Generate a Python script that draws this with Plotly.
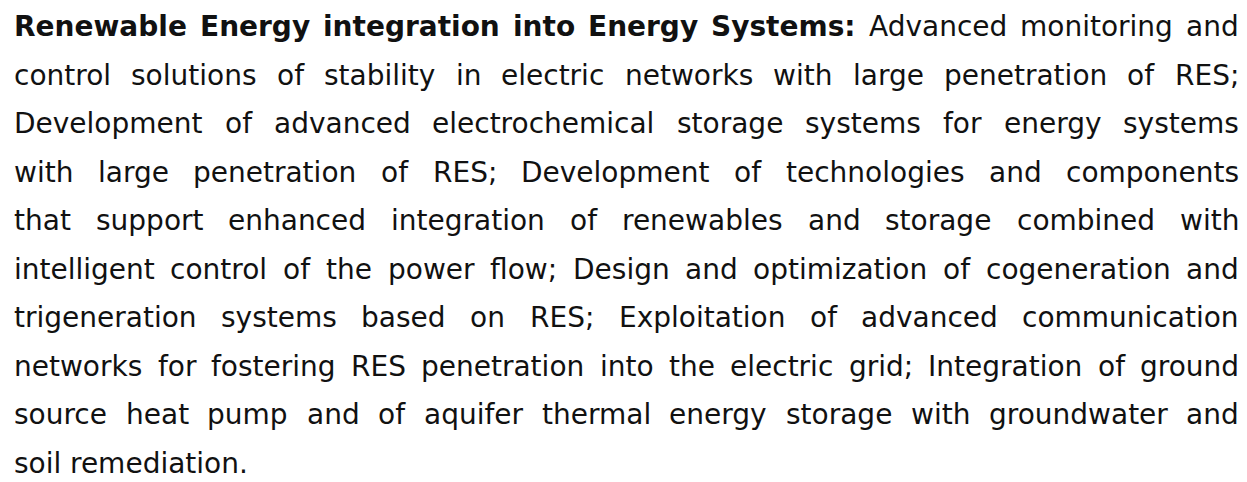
import glob
import plotly.graph_objects as go

# ---- content ----
bold_lead = "Renewable Energy integration into Energy Systems:"
lines = [
    "Renewable Energy integration into Energy Systems: Advanced monitoring and",
    "control solutions of stability in electric networks with large penetration of RES;",
    "Development of advanced electrochemical storage systems for energy systems",
    "with large penetration of RES; Development of technologies and components",
    "that support enhanced integration of renewables and storage combined with",
    "intelligent control of the power flow; Design and optimization of cogeneration and",
    "trigeneration systems based on RES; Exploitation of advanced communication",
    "networks for fostering RES penetration into the electric grid; Integration of ground",
    "source heat pump and of aquifer thermal energy storage with groundwater and",
    "soil remediation.",
]
justified = [True] * 9 + [False]

# ---- layout constants (page pixel coordinates) ----
W, H = 1247, 482
PAGE_OFFSET = 8          # default body margin of the html page
LEFT, RIGHT = 13, 1238
FIRST_BASELINE, LINE_STEP = 36.5, 48.5
FONT = "DejaVu Sans"
SIZE = 28
MIN_GAP = 5.0
COLOR = "#111111"

# ---- word width measurement (per px of font size) ----
REG = dict(a=1255, b=1300, c=1126, d=1300, e=1260, f=721, g=1300, h=1298, i=569, j=569,
           k=1186, l=569, m=1995, n=1298, o=1253, p=1300, q=1300, r=842, s=1067, t=803,
           u=1298, v=1212, w=1675, x=1212, y=1212, z=1075, A=1401, D=1577, E=1294,
           I=604, R=1423, S=1300, T=1251)
REG.update({";": 690, ":": 690, ".": 651, " ": 651})
BLD = dict(a=1382, b=1466, c=1214, d=1466, e=1389, f=891, g=1466, h=1458, i=702, j=702,
           k=1362, l=702, m=2134, n=1458, o=1407, p=1466, q=1466, r=1010, s=1219, t=979,
           u=1458, v=1335, w=1892, x=1321, y=1335, z=1192, E=1399, R=1577, S=1479)
BLD.update({";": 819, ":": 819, ".": 782, " ": 713})

measure = None
try:
    from PIL import ImageFont
    reg_p = glob.glob("/usr/share/fonts/**/DejaVuSans.ttf", recursive=True)
    bld_p = glob.glob("/usr/share/fonts/**/DejaVuSans-Bold.ttf", recursive=True)
    if reg_p and bld_p:
        f_reg = ImageFont.truetype(reg_p[0], 100)
        f_bld = ImageFont.truetype(bld_p[0], 100)

        def measure(word, bold, size):
            return (f_bld if bold else f_reg).getlength(word) * size / 100.0
except Exception:
    measure = None

if measure is None:
    def measure(word, bold, size):
        tbl = BLD if bold else REG
        return sum(tbl.get(ch, 1200) for ch in word) * size / 2048.0

n_bold = len(bold_lead.split())
span = RIGHT - LEFT

fig = go.Figure()
annotations = []
for li, line in enumerate(lines):
    words = line.split(" ")
    bold_flags = [li == 0 and wi < n_bold for wi in range(len(words))]
    size = SIZE
    widths = [measure(w, b, size) for w, b in zip(words, bold_flags)]
    if justified[li] and len(words) > 1:
        total = sum(widths)
        if total + MIN_GAP * (len(words) - 1) > span:
            size = SIZE * (span - MIN_GAP * (len(words) - 1)) / total
            widths = [measure(w, b, size) for w, b in zip(words, bold_flags)]
        gap = (span - sum(widths)) / (len(words) - 1)
    else:
        gap = measure(" ", False, size)
    baseline = FIRST_BASELINE + li * LINE_STEP
    ymid = baseline - 0.346 * size
    x = LEFT
    for w, b, wd in zip(words, bold_flags, widths):
        annotations.append(dict(
            x=x, y=ymid, xref="x", yref="y", xanchor="left", yanchor="middle",
            text=f"<b>{w}</b>" if b else w, showarrow=False, borderpad=0,
            font=dict(family=FONT, size=size, color=COLOR),
        ))
        x += wd + gap

fig.update_layout(
    width=W, height=H, margin=dict(l=0, r=0, t=0, b=0),
    paper_bgcolor="white", plot_bgcolor="white",
    xaxis=dict(range=[PAGE_OFFSET, W + PAGE_OFFSET], visible=False, fixedrange=True),
    yaxis=dict(range=[H + PAGE_OFFSET, PAGE_OFFSET], visible=False, fixedrange=True),
    annotations=annotations, showlegend=False,
)
fig.write_html("out.html")
